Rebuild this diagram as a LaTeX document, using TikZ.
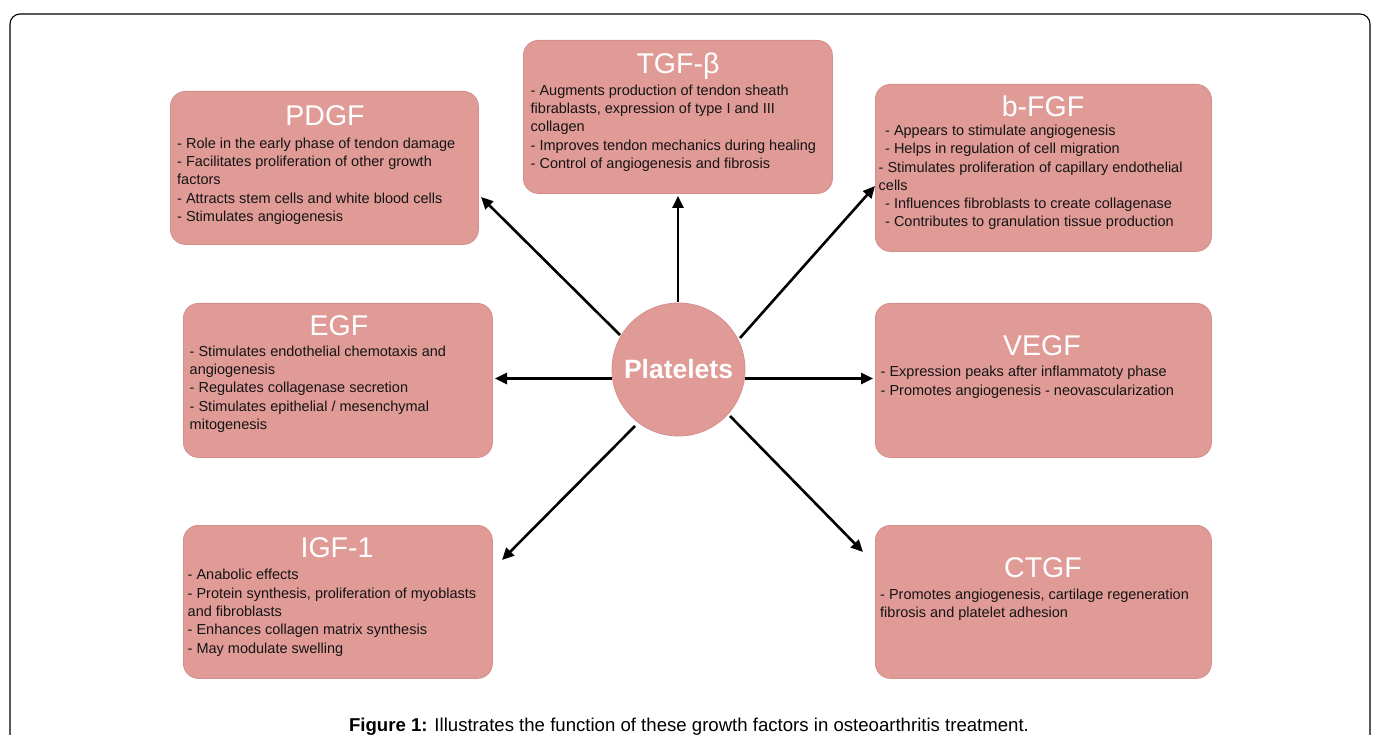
\documentclass[tikz,border=0pt]{standalone}
\usepackage{fontspec}
\setmainfont{Liberation Sans}
\usetikzlibrary{arrows.meta}
\definecolor{boxfill}{RGB}{224,155,151}
\definecolor{boxline}{RGB}{212,142,140}
\definecolor{bodytext}{RGB}{20,20,20}
\begin{document}
\begin{tikzpicture}[x=1pt,y=-1pt,
  gbox/.style={draw=boxline, fill=boxfill, rounded corners=15pt, line width=0.8pt, anchor=north west, inner sep=0pt},
  ttl/.style={text=white, font=\fontsize{28.5}{30}\selectfont, inner sep=0pt, anchor=base},
  body/.style={anchor=base west, align=left, inner sep=0pt, font=\fontsize{14.5}{18.3}\selectfont, text=bodytext},
  arr/.style={line width=2.6pt, -{Triangle[length=12pt,width=11pt]}},
]
\useasboundingbox (0,0) rectangle (1373,735);
% outer frame
\draw[line width=1.1pt, rounded corners=10pt] (10,760) -- (10,14) -- (1370,14) -- (1370,760);

% boxes
\node[gbox, minimum width=308, minimum height=153] (pdgf) at (170,91) {};
\node[gbox, minimum width=309, minimum height=153] (tgf) at (523,40) {};
\node[gbox, minimum width=336, minimum height=167] (bfgf) at (875,84) {};
\node[gbox, minimum width=309, minimum height=154] (egf) at (183,303) {};
\node[gbox, minimum width=336, minimum height=154] (vegf) at (875,303) {};
\node[gbox, minimum width=309, minimum height=153] (igf) at (183,525) {};
\node[gbox, minimum width=336, minimum height=153] (ctgf) at (875,525) {};

% titles
\node[ttl] (tpdgf) at (325,125.5) {PDGF};
\node[ttl] (ttgf) at (678,73.5) {TGF-β};
\node[ttl] (tbfgf) at (1043,117) {b-FGF};
\node[ttl] (tegf) at (339,335) {EGF};
\node[ttl] (tvegf) at (1042,355) {VEGF};
\node[ttl] (tigf) at (337,557) {IGF-1};
\node[ttl] (tctgf) at (1043,577) {CTGF};

% bodies (anchored at the baseline of the last line)
\node[body] (bpdgf) at (177,221.5) {- Role in the early phase of tendon damage\\- Facilitates proliferation of other growth\\factors\\- Attracts stem cells and white blood cells\\- Stimulates angiogenesis};
\node[body] (btgf) at (530.5,168.5) {- Augments production of tendon sheath\\fibrablasts, expression of type I and III\\collagen\\- Improves tendon mechanics during healing\\- Control of angiogenesis and fibrosis};
\node[body] (bbfgf) at (878.5,227) {\ \,- Appears to stimulate angiogenesis\\\ \,- Helps in regulation of cell migration\\- Stimulates proliferation of capillary endothelial\\cells\\\ \,- Influences fibroblasts to create collagenase\\\ \,- Contributes to granulation tissue production};
\node[body] (begf) at (189.5,429.5) {- Stimulates endothelial chemotaxis and\\angiogenesis\\- Regulates collagenase secretion\\- Stimulates epithelial / mesenchymal\\mitogenesis};
\node[body] (bvegf) at (880.5,395) {- Expression peaks after inflammatoty phase\\- Promotes angiogenesis - neovascularization};
\node[body] (bigf) at (187.5,653) {- Anabolic effects\\- Protein synthesis, proliferation of myoblasts\\and fibroblasts\\- Enhances collagen matrix synthesis\\- May modulate swelling};
\node[body] (bctgf) at (880,617.5) {- Promotes angiogenesis, cartilage regeneration\\fibrosis and platelet adhesion};

% center
\node[circle, fill=boxfill, draw=boxline, line width=0.8pt, minimum size=133, inner sep=0pt,
      text=white, font=\fontsize{26.5}{28}\selectfont\bfseries] (pl) at (678.5,369.5) {Platelets};

% arrow end points
\coordinate (s1) at (620,335);  \coordinate (e1) at (481,197);
\coordinate (s2) at (678,302);  \coordinate (e2) at (678,196);
\coordinate (s3) at (740,338);  \coordinate (e3) at (875,186);
\coordinate (s4) at (612,378.5);\coordinate (e4) at (495,378.5);
\coordinate (s5) at (745,378.5);\coordinate (e5) at (873,378.5);
\coordinate (s6) at (635,426);  \coordinate (e6) at (502,560);
\coordinate (s7) at (730,416);  \coordinate (e7) at (863,552);
\foreach \i in {1,...,7} {\draw[arr] (s\i) -- (e\i);}

% caption
\node[anchor=base, inner sep=0pt, font=\fontsize{18.6}{20}\selectfont] (cap) at (689,731)
  {\textbf{Figure 1:} Illustrates the function of these growth factors in osteoarthritis treatment.};
\end{tikzpicture}
\end{document}
